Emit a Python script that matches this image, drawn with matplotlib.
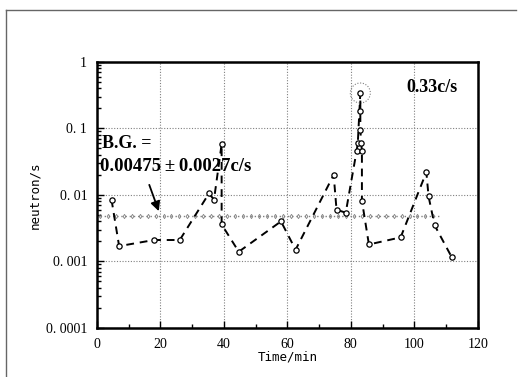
import matplotlib
matplotlib.use("Agg")
import matplotlib.pyplot as plt
import matplotlib.transforms as transforms
from matplotlib.patches import Circle
from matplotlib.lines import Line2D
from matplotlib.ticker import FixedLocator, LogLocator, NullFormatter

# measured count rate vs time
time_min = [4.6, 7.0, 18.0, 26.1, 35.3, 36.9, 39.3, 39.3, 44.7, 58.0, 62.6,
            74.6, 75.5, 78.4, 81.8, 82.2, 83.0, 83.0, 83.0, 83.3, 83.5, 83.5,
            85.7, 95.7, 103.8, 104.5, 106.4, 111.8]
rate = [0.0085, 0.0017, 0.0021, 0.0021, 0.0105, 0.0085, 0.058, 0.0036, 0.0014,
        0.0040, 0.0015, 0.020, 0.0060, 0.0054, 0.045, 0.06, 0.34, 0.18, 0.095,
        0.06, 0.045, 0.0082, 0.0018, 0.0023, 0.022, 0.0095, 0.0035, 0.00116]

bg_level = 0.00475
bg_span = [1.0, 108.0]
peak_t, peak_rate = 83.0, 0.34

y_ticks = [0.0001, 0.001, 0.01, 0.1, 1]
y_labels = ["0. 0001", "0. 001", "0. 01", "0. 1", "1"]
x_ticks = [0, 20, 40, 60, 80, 100, 120]

fig = plt.figure(figsize=(5.21, 3.77), dpi=100)
ax = fig.add_axes([0.186, 0.130, 0.731, 0.706])

# background level: dotted line with small diamond marks
ax.plot(bg_span, [bg_level, bg_level], color="0.5", lw=1.0,
        linestyle=(0, (1, 2)))
bg_x = [bg_span[0] + i * 2.5 for i in range(int((bg_span[1] - bg_span[0]) / 2.5) + 1)]
ax.plot(bg_x, [bg_level] * len(bg_x), linestyle="none", marker="d",
        markersize=2.2, markerfacecolor="none", markeredgecolor="0.5",
        markeredgewidth=0.6)

ax.plot(time_min, rate, color="black", lw=1.4, linestyle=(0, (4, 3)),
        marker="o", markersize=3.8, markerfacecolor="white",
        markeredgecolor="black", markeredgewidth=0.9)

ax.set_yscale("log")
ax.set_xlim(0, 120)
ax.set_ylim(1e-4, 1)
ax.yaxis.set_major_locator(FixedLocator(y_ticks))
ax.set_yticklabels(y_labels)
ax.yaxis.set_minor_locator(LogLocator(base=10, subs=range(2, 10), numticks=20))
ax.yaxis.set_minor_formatter(NullFormatter())
ax.set_xticks(x_ticks)
ax.set_xticks([10, 30, 50, 70, 90, 110], minor=True)
ax.tick_params(which="both", direction="in", width=1.0, labelsize=10)
ax.tick_params(which="major", length=5, pad=7)
ax.tick_params(which="minor", length=3)
for lab in ax.get_xticklabels() + ax.get_yticklabels():
    lab.set_family("Liberation Serif")
for sp in ax.spines.values():
    sp.set_linewidth(1.8)

ax.grid(which="major", color="0.5", linestyle=(0, (1, 1.5)), lw=0.8)

ax.set_xlabel("Time/min", family="DejaVu Sans Mono", fontsize=9, labelpad=0)
ax.set_ylabel("neutron/s", family="DejaVu Sans Mono", fontsize=9, labelpad=3)

ax.text(1.5, 0.06, "B.G. =", family="Liberation Serif", fontweight="bold",
        fontsize=13, va="center", ha="left")
ax.text(1.0, 0.027, "0.00475\u2009\u00b1\u20090.0027c/s", family="Liberation Serif",
        fontweight="bold", fontsize=13.5, va="center", ha="left")
ax.text(97.6, 0.41, "0.33c/s", family="Liberation Serif", fontweight="bold",
        fontsize=13, va="center", ha="left")

ax.annotate("", xy=(19.8, 0.0052), xytext=(16.2, 0.0155),
            arrowprops=dict(arrowstyle="-|>", color="black", lw=1.3,
                            mutation_scale=14))

trans = fig.dpi_scale_trans + transforms.ScaledTranslation(peak_t, peak_rate,
                                                           ax.transData)
ax.add_patch(Circle((0, 0), 0.1, transform=trans, fill=False, edgecolor="0.5",
                    linestyle=(0, (1, 1.5)), lw=0.8, clip_on=False))

# page frame
fig.add_artist(Line2D([0.012, 0.012], [0.0, 0.974], color="0.4", lw=1.0))
fig.add_artist(Line2D([0.012, 0.99], [0.974, 0.974], color="0.4", lw=1.0))

fig.savefig("out.png", dpi=100)
